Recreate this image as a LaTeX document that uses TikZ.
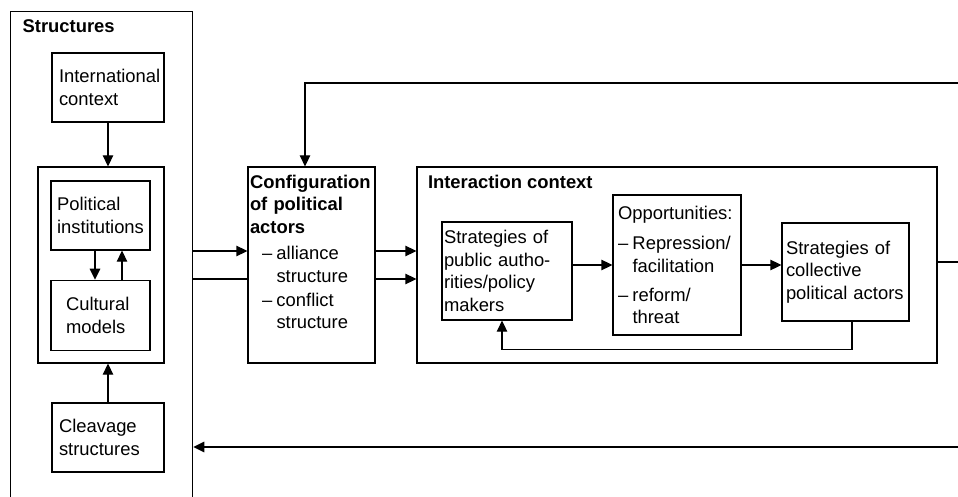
\documentclass[tikz,border=0pt]{standalone}
\usepackage{fontspec}
\setmainfont{Liberation Sans}
\usetikzlibrary{arrows.meta,positioning}

\newcommand{\fs}{\fontsize{18.4pt}{22.6pt}\selectfont}
\newcommand{\ditem}[1]{\makebox[14.5pt][l]{–}#1}
\newcommand{\dcont}[1]{\hspace*{14.5pt}#1}

\tikzset{
	box/.style={draw, line width=1.3pt, inner sep=0pt, align=left},
	lbl/.style={inner sep=0pt, anchor=north west, align=left},
	arr/.style={line width=1.3pt, -{Triangle[length=11pt,width=10.5pt]}},
}

\begin{document}
\begin{tikzpicture}[x=1pt, y=-1pt, font=\fs, line width=1.3pt]
		\useasboundingbox (0,0) rectangle (958,497);
		\clip (0,0) rectangle (958,497);
		
		% structures column
		\node[box, minimum width=182pt, minimum height=520pt, anchor=north west] (struct) at (10,11) {};
		\node[lbl, font=\fs\bfseries] (structlbl) at ([xshift=12pt,yshift=-8.3pt]struct.north west) {Structures};
		\node[box, minimum width=112pt, minimum height=69pt, text width=98pt] (intl) at (108,87.5) {International\\context};
		\node[box, minimum width=126pt, minimum height=196pt] (inst) at (101,265) {};
		\node[box, minimum width=99pt, minimum height=69pt, text width=87pt] (polit) at (100.5,215.5) {Political\\institutions};
		\node[box, minimum width=99pt, minimum height=70pt, text width=69pt, below=29pt of polit] (cult) {Cultural\\models};
		\node[box, minimum width=112pt, minimum height=69pt, text width=98pt] (cleav) at (108,437.5) {Cleavage\\structures};
		
		% configuration
		\node[box, minimum width=127pt, minimum height=196pt] (config) at (311.5,265) {};
		\node[lbl, text width=122pt] (configtxt) at ([xshift=2pt,yshift=-8pt]config.north west)
			{\textbf{Configuration}\\\textbf{of political}\\\textbf{actors}\\[3.5pt]
			\hspace*{12pt}\ditem{alliance}\\\hspace*{12pt}\dcont{structure}\\[1.5pt]
			\hspace*{12pt}\ditem{conflict}\\\hspace*{12pt}\dcont{structure}};
		
		% interaction context
		\node[box, minimum width=520pt, minimum height=196pt] (inter) at (677,265) {};
		\node[lbl, font=\fs\bfseries] (interlbl) at ([xshift=11pt,yshift=-8.3pt]inter.north west) {Interaction context};
		\node[box, minimum width=130pt, minimum height=98pt, text width=126pt] (pub) at (507,271) {Strategies of\\public autho-\\rities/policy\\makers};
		\node[box, minimum width=128pt, minimum height=140pt, text width=118pt] (opp) at (677,265)
			{Opportunities:\\[8pt]\ditem{Repression/}\\\dcont{facilitation}\\[6pt]\ditem{reform/}\\\dcont{threat}};
		\node[box, minimum width=127pt, minimum height=98pt, text width=119pt] (coll) at (845.5,272) {Strategies of\\collective\\political actors};
		
		\coordinate (outt) at (958,83);
		\coordinate (outr) at (958,262);
		\coordinate (outb) at (958,447);
		
		\draw[arr] (intl.south) -- (intl.south |- inst.north);
		\draw[arr] (cleav.north) -- (cleav.north |- inst.south);
		\draw[arr] ([xshift=-5.5pt]polit.south) -- ([xshift=-5.5pt]cult.north);
		\draw[arr] ([xshift=21.5pt]cult.north) -- ([xshift=21.5pt]polit.south);
		
		\draw[arr] ([yshift=14pt]config.west -| struct.east) -- ([yshift=14pt]config.west);
		\draw ([yshift=-14pt]config.west -| struct.east) -- ([yshift=-14pt]config.west);
		\draw[arr] ([yshift=14pt]config.east) -- ([yshift=14pt]config.east -| inter.west);
		\draw[arr] ([yshift=-14pt]config.east) -- ([yshift=-14pt]config.east -| inter.west);
		
		\draw[arr] (pub.east |- opp.west) -- (opp.west);
		\draw[arr] (opp.east) -- (opp.east -| coll.west);
		\draw[arr] ([xshift=6.5pt]coll.south) -- ++(0,28) -| ([xshift=-5pt]pub.south);
		
		\draw (inter.east |- outr) -- (outr);
		\draw[arr] (outt) -| ([xshift=-6.5pt]config.north);
		\draw[arr] (outb) -- (outb -| struct.east);
\end{tikzpicture}
\end{document}
